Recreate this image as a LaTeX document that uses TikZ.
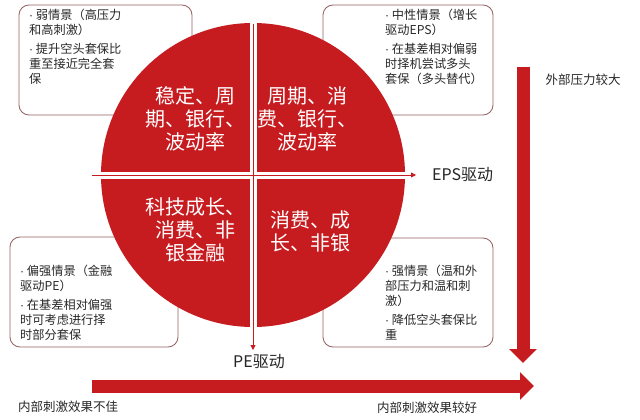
\documentclass[tikz,border=0pt]{standalone}
\usepackage{fontspec}
\setmainfont{Noto Sans CJK SC}
\newfontfamily\latinfont{Liberation Sans}
\newcommand\bdot{{\latinfont ·}\ }
\usetikzlibrary{arrows.meta}
\definecolor{qred}{RGB}{198,28,32}
\definecolor{boxline}{RGB}{150,95,95}
\definecolor{txt}{RGB}{40,40,40}
\tikzset{
  infobox/.style={draw=boxline, line width=0.8pt, rounded corners=10pt, fill=white},
  infotext/.style={anchor=north west, inner sep=0pt, align=left, text=txt,
    font=\fontsize{12.2}{15}\selectfont},
  quadtext/.style={align=center, text=white, inner sep=0pt,
    font=\fontsize{20}{23}\selectfont},
  lab/.style={text=txt, inner sep=0pt, font=\fontsize{12.5}{14}\selectfont},
  axlab/.style={text=black!85, inner sep=0pt, font=\fontsize{16}{18}\selectfont},
  thinarrow/.style={draw=qred, line width=0.8pt, -{Triangle[length=5pt,width=5pt]}},
  bigarrow/.style={draw=qred, line width=13pt, -{Triangle[length=14pt,width=27pt]}},
}
\begin{document}
\begin{tikzpicture}[x=1pt,y=-1pt]
\useasboundingbox[fill=white] (0,0) rectangle (640,420);
% boxes (behind circle)
\draw[infobox] (19,5) rectangle (192,115);
\draw[infobox] (323,5) rectangle (493,115);
\draw[infobox] (10,237) rectangle (178,347);
\draw[infobox] (323,238) rectangle (493,347);
\node[infotext] (tltext) at (29,9) {\bdot 弱情景（高压力\\和高刺激）\\[4pt]\bdot 提升空头套保比\\重至接近完全套\\保};
\node[infotext] (trtext) at (385,9) {\bdot 中性情景（增长\\驱动EPS）\\[4pt]\bdot 在基差相对偏弱\\时择机尝试多头\\套保（多头替代）};
\node[infotext] (bltext) at (20,265) {\bdot 偏强情景（金融\\驱动PE）\\[4pt]\bdot 在基差相对偏强\\时可考虑进行择\\时部分套保};
\node[infotext] (brtext) at (385,265) {\bdot 强情景（温和外\\部压力和温和刺\\激）\\[4pt]\bdot 降低空头套保比\\重};
% circle
\node[circle, fill=qred, minimum size=304pt, inner sep=0pt] (disc) at (253,175) {};
% white gaps
\fill[white] ([xshift=-2pt,yshift=3.5pt]disc.west) rectangle ([xshift=2pt,yshift=-3.5pt]disc.east);
\fill[white] ([xshift=-3.5pt,yshift=2pt]disc.north) rectangle ([xshift=3.5pt,yshift=-2pt]disc.south);
% axes
\coordinate (hstart) at (92,175);
\coordinate (hend) at (416,175);
\coordinate (vstart) at (253,24);
\coordinate (vend) at (253,350);
\draw[thinarrow] (hstart) -- (hend);
\draw[thinarrow] (vstart) -- (vend);
% quadrant texts
\node[quadtext] (q1) at (195,118.5) {稳定、周\\期、银行、\\波动率};
\node[quadtext] (q2) at (307,118.5) {周期、消\\费、银行、\\波动率};
\node[quadtext] (q3) at (195,230) {科技成长、\\消费、非\\银金融};
\node[quadtext] (q4) at (310,231) {消费、成\\长、非银};
% axis labels
\node[axlab, anchor=west] (eps) at (432,175) {EPS驱动};
\node[axlab] (pe) at (259,362) {PE驱动};
% big arrows
\coordinate (bhs) at (92,386);
\coordinate (bhe) at (534,386);
\coordinate (bvs) at (523,67);
\coordinate (bve) at (523,363);
\draw[bigarrow] (bhs) -- (bhe);
\draw[bigarrow] (bvs) -- (bve);
% labels
\node[lab] (ext) at (583,80) {外部压力较大};
\node[lab] (inbad) at (68,407) {内部刺激效果不佳};
\node[lab] (ingood) at (427,408) {内部刺激效果较好};
\end{tikzpicture}
\end{document}
